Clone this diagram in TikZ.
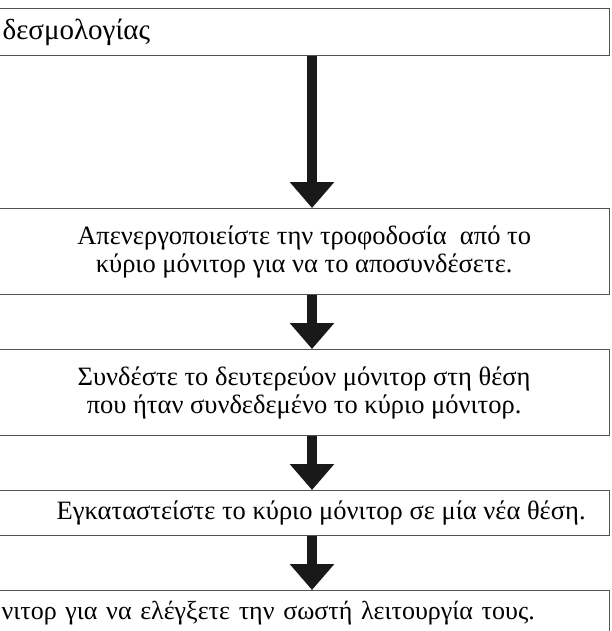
\documentclass[tikz,border=0pt]{standalone}
\usepackage{fontspec}
\setmainfont{Liberation Serif}
\usetikzlibrary{arrows.meta}

\tikzset{
  stepbox/.style={draw=black!68, line width=1.3pt, rectangle, inner sep=0pt, minimum width=619pt, anchor=north west},
  steptext/.style={align=center, font=\fontsize{26.5}{28}\selectfont},
  flow/.style={line width=10pt, black!90, -{Triangle[width=43pt,length=26pt]}}
}

\begin{document}
\begin{tikzpicture}[x=1pt, y=-1pt, font=\fontsize{26.5}{28}\selectfont]
    \useasboundingbox (0,0) rectangle (611,631);
    \clip (0,0) rectangle (611,631);
    \coordinate (axis) at (312,0);
    % steps
    \node[stepbox, minimum height=47pt, text width=595pt, inner xsep=12pt, align=left, font=\fontsize{29}{30}\selectfont] (b1) at (-10,8) {δεσμολογίας};
    \node[stepbox, minimum height=86pt,
        label={[name=t2, steptext, xshift=4pt]center:Απενεργοποιείστε την τροφοδοσία \ από το\\κύριο μόνιτορ για να το αποσυνδέσετε.}] (b2) at (-10,208) {};
    \node[stepbox, minimum height=86pt,
        label={[name=t3, steptext, xshift=4pt]center:Συνδέστε το δευτερεύον μόνιτορ στη θέση\\που ήταν συνδεδεμένο το κύριο μόνιτορ.}] (b3) at (-10,349) {};
    \node[stepbox, minimum height=45pt,
        label={[name=t4, steptext, xshift=21pt]center:Εγκαταστείστε το κύριο μόνιτορ σε μία νέα θέση.}] (b4) at (-10,490) {};
    \node[stepbox, minimum height=44pt, text width=597pt, inner xsep=11pt, align=left, font=\fontsize{26}{28}\selectfont] (b5) at (-10,590) {νιτορ για να ελέγξετε την σωστή λειτουργία τους.};
    % arrows
    \draw[flow] (b1.south -| axis) -- (b2.north -| axis);
    \draw[flow] (b2.south -| axis) -- (b3.north -| axis);
    \draw[flow] (b3.south -| axis) -- (b4.north -| axis);
    \draw[flow] (b4.south -| axis) -- (b5.north -| axis);
\end{tikzpicture}
\end{document}
